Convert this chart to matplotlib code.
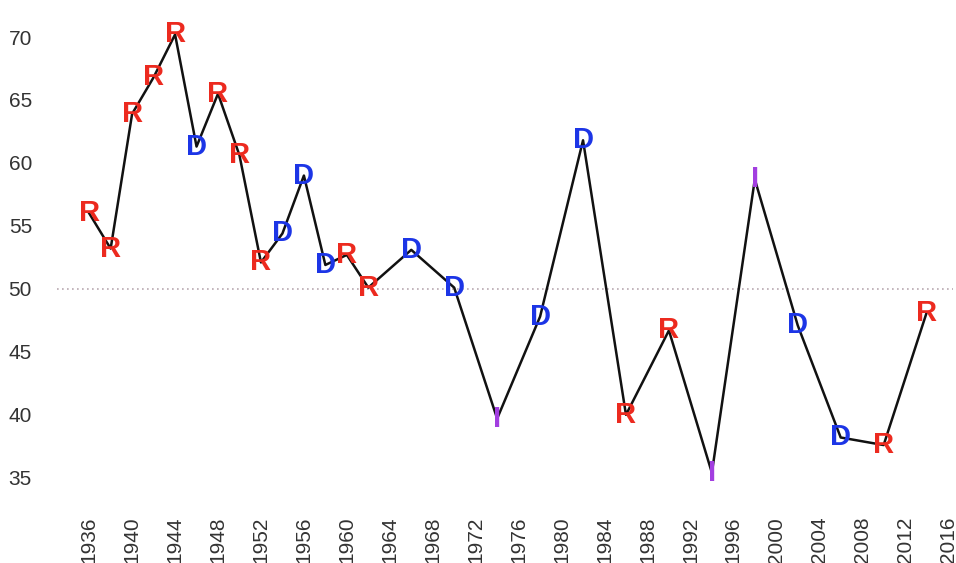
import matplotlib
matplotlib.use("Agg")
import matplotlib.pyplot as plt

# Winning share per election year, with party letter
years = [1936, 1938, 1940, 1942, 1944, 1946, 1948, 1950, 1952, 1954, 1956,
         1958, 1960, 1962, 1966, 1970, 1974, 1978, 1982, 1986, 1990, 1994,
         1998, 2002, 2006, 2010, 2014]
shares = [56.0, 53.2, 63.9, 66.8, 70.2, 61.3, 65.5, 60.6, 52.1, 54.4, 59.0,
          51.9, 52.7, 50.1, 53.1, 50.1, 39.7, 47.8, 61.8, 40.0, 46.7, 35.4,
          58.7, 47.1, 38.2, 37.6, 48.1]
parties = ["R", "R", "R", "R", "R", "D", "R", "R", "R", "D", "D",
           "D", "R", "R", "D", "D", "I", "D", "D", "R", "R", "I",
           "I", "D", "D", "R", "R"]

party_colors = {"R": "#ec2a1f", "D": "#1c35e6", "I": "#a23ee0"}
xticks = list(range(1936, 2017, 4))
yticks = [35, 40, 45, 50, 55, 60, 65, 70]

plt.rcParams["font.family"] = ["Liberation Sans", "DejaVu Sans"]

fig = plt.figure(figsize=(9.56, 5.63), dpi=100)
ax = fig.add_axes([0.0596, 0.1066, 0.9377, 0.8724])

ax.axhline(50, color="#b8a8b0", linestyle=(0, (1, 2)), linewidth=1.2, zorder=1)
ax.plot(years, shares, color="#111111", linewidth=1.8, zorder=2)
for yr, v, p in zip(years, shares, parties):
    ax.text(yr, v, p, color=party_colors[p], fontsize=21, fontweight="bold",
            ha="center", va="center", zorder=3)

ax.set_xlim(1933, 2016.5)
ax.set_ylim(33, 72)
ax.set_xticks(xticks)
ax.set_xticklabels([str(t) for t in xticks], rotation=90)
ax.set_yticks(yticks)
for s in ax.spines.values():
    s.set_visible(False)
ax.tick_params(axis="both", length=0, labelsize=15, labelcolor="#333333")
ax.tick_params(axis="y", pad=18)
ax.tick_params(axis="x", pad=10)

fig.savefig("out.png", dpi=100)
